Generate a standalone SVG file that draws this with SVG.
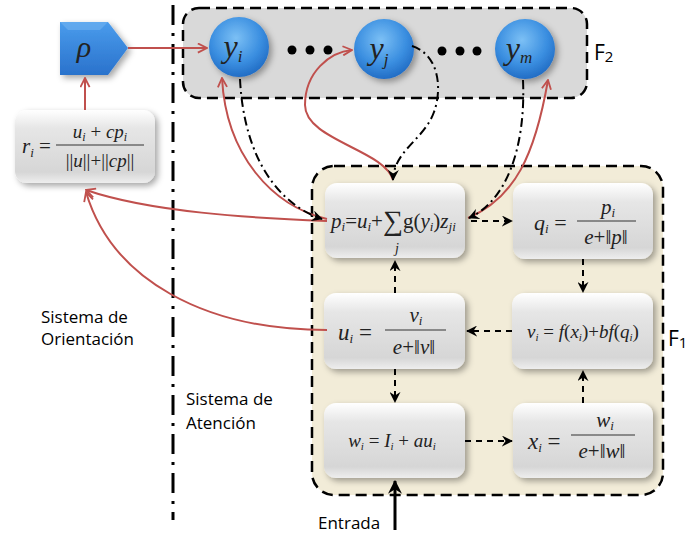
<svg xmlns="http://www.w3.org/2000/svg" width="698" height="535" viewBox="0 0 698 535">
<style>
.math{font-family:"Liberation Serif","DejaVu Serif",serif;font-style:italic;fill:#222}
.lbl{font-family:"Open Sans","Liberation Sans",sans-serif;fill:#000}
.box{fill:url(#gbox);filter:url(#sh)}
.red{fill:none;stroke:#c0504d;stroke-width:2;marker-end:url(#ar)}
.dd{fill:none;stroke:#000;stroke-width:2;stroke-dasharray:9 4 2 4;marker-end:url(#ab)}
.dsh{fill:none;stroke:#000;stroke-width:2;stroke-dasharray:6 5;marker-end:url(#ab)}
.frac{stroke:#333;stroke-width:1.2}
</style>
<defs>
<linearGradient id="gbox" x1="0" y1="0" x2="0" y2="1">
<stop offset="0" stop-color="#ffffff"/><stop offset="0.25" stop-color="#e6e6e6"/><stop offset="0.85" stop-color="#d6d6d6"/><stop offset="1" stop-color="#eeeeee"/>
</linearGradient>
<radialGradient id="gball" cx="0.45" cy="0.35" r="0.7">
<stop offset="0" stop-color="#7cc0f5"/><stop offset="0.6" stop-color="#3a8ee0"/><stop offset="1" stop-color="#1d66bf"/>
</radialGradient>
<linearGradient id="gpent" x1="0" y1="0" x2="0" y2="1">
<stop offset="0" stop-color="#4a9cec"/><stop offset="1" stop-color="#2a72cc"/>
</linearGradient>
<filter id="sh" x="-20%" y="-20%" width="150%" height="160%">
<feDropShadow dx="3" dy="3" stdDeviation="3" flood-color="#000" flood-opacity="0.35"/>
</filter>
<marker id="ab" viewBox="0 0 12 12" refX="11" refY="6" markerWidth="11" markerHeight="11" markerUnits="userSpaceOnUse" orient="auto">
<path d="M0,0 L12,6 L0,12 L4,6 z" fill="#000"/>
</marker>
<marker id="ar" viewBox="0 0 12 12" refX="11" refY="6" markerWidth="11" markerHeight="11" markerUnits="userSpaceOnUse" orient="auto">
<path d="M1,1 L11,6 L1,11" fill="none" stroke="#c0504d" stroke-width="2"/>
</marker>
<marker id="abs" viewBox="0 0 12 12" refX="11" refY="6" markerWidth="14" markerHeight="14" markerUnits="userSpaceOnUse" orient="auto">
<path d="M0,0 L12,6 L0,12 L4,6 z" fill="#000"/>
</marker>
</defs>
<rect width="698" height="535" fill="#fff"/>

<!-- divider -->
<line x1="173" y1="5" x2="173" y2="520" stroke="#000" stroke-width="3" stroke-dasharray="20 8 3 8"/>

<!-- panels -->
<g id="F2">
<rect x="183" y="8" width="404" height="90" rx="16" fill="#d9d9d9" stroke="#000" stroke-width="2.5" stroke-dasharray="11 6"/>
<text class="lbl" x="594" y="60" font-size="21">F<tspan font-size="15" dy="2">2</tspan></text>
</g>
<g id="F1">
<rect x="312" y="166" width="351" height="329" rx="22" fill="#f2ecd8" stroke="#000" stroke-width="2.5" stroke-dasharray="11 6"/>
<text class="lbl" x="668" y="346" font-size="21">F<tspan font-size="15" dy="2">1</tspan></text>
</g>

<!-- labels -->
<g id="labels">
<text class="lbl" x="41" y="323" font-size="17">Sistema de</text>
<text class="lbl" x="41" y="345" font-size="17">Orientación</text>
<text class="lbl" x="186" y="405" font-size="17">Sistema de</text>
<text class="lbl" x="186" y="429" font-size="17">Atención</text>
<text class="lbl" x="318" y="529" font-size="17">Entrada</text>
</g>

<!-- nodes -->
<g id="rho">
<path d="M60,22 L108,22 L128,48 L108,75 L60,75 z" fill="url(#gpent)" filter="url(#sh)"/>
<path d="M60,22 L108,22 L100,30 L68,30 z" fill="#7ab8f2" opacity="0.5"/>
<text class="math" x="84" y="57" font-size="30" text-anchor="middle">ρ</text>
</g>
<g id="ri">
<rect class="box" x="15" y="110" width="140" height="73" rx="12"/>
<text class="math" x="22" y="153" font-size="21">r<tspan font-size="13" dy="4">i</tspan><tspan dy="-4" font-style="normal"> =</tspan></text>
<line class="frac" x1="56" y1="145" x2="144" y2="145"/>
<text class="math" x="100" y="138" font-size="19" text-anchor="middle">u<tspan font-size="12" dy="3">i</tspan><tspan dy="-3" font-style="normal"> + </tspan>cp<tspan font-size="12" dy="3">i</tspan></text>
<text class="math" x="100" y="167" font-size="19" text-anchor="middle"><tspan font-style="normal">||</tspan>u<tspan font-style="normal">||+||</tspan>cp<tspan font-style="normal">||</tspan></text>
</g>
<g id="yi">
<circle cx="239" cy="47" r="30" fill="url(#gball)" filter="url(#sh)"/>
<text class="math" x="233" y="57" font-size="32" text-anchor="middle">y<tspan font-size="17" dy="5">i</tspan></text>
</g>
<g id="dots1">
<circle cx="292" cy="50" r="4.5" fill="#000"/><circle cx="310" cy="50" r="4.5" fill="#000"/><circle cx="328" cy="50" r="4.5" fill="#000"/>
</g>
<g id="yj">
<circle cx="384" cy="49" r="30" fill="url(#gball)" filter="url(#sh)"/>
<text class="math" x="379" y="59" font-size="32" text-anchor="middle">y<tspan font-size="17" dy="6">j</tspan></text>
</g>
<g id="dots2">
<circle cx="442" cy="51" r="4.5" fill="#000"/><circle cx="460" cy="51" r="4.5" fill="#000"/><circle cx="477" cy="51" r="4.5" fill="#000"/>
</g>
<g id="ym">
<circle cx="525" cy="49" r="30" fill="url(#gball)" filter="url(#sh)"/>
<text class="math" x="519" y="59" font-size="32" text-anchor="middle">y<tspan font-size="17" dy="4">m</tspan></text>
</g>

<g id="p">
<rect class="box" x="325" y="183" width="140" height="75" rx="12"/>
<text class="math" x="331" y="228" font-size="21" fill="#333">p<tspan font-size="13" dy="3">i</tspan><tspan dy="-3" font-style="normal">=</tspan>u<tspan font-size="13" dy="3">i</tspan><tspan dy="-3" font-style="normal">+</tspan><tspan font-style="normal" font-size="28" dy="2">∑</tspan><tspan dy="-2" font-style="normal">g(</tspan>y<tspan font-size="13" dy="3">i</tspan><tspan dy="-3" font-style="normal">)</tspan>z<tspan font-size="13" dy="3">ji</tspan></text>
<text class="math" x="397" y="253" font-size="14" text-anchor="middle">j</text>
</g>
<g id="q">
<rect class="box" x="513" y="183" width="140" height="76" rx="12"/>
<text class="math" x="534" y="230" font-size="22">q<tspan font-size="13" dy="3">i</tspan><tspan dy="-3" font-style="normal"> =</tspan></text>
<line class="frac" x1="577" y1="221" x2="636" y2="221"/>
<text class="math" x="608" y="214" font-size="21" text-anchor="middle">p<tspan font-size="13" dy="3">i</tspan></text>
<text class="math" x="606" y="244" font-size="21" text-anchor="middle">e<tspan font-style="normal">+‖</tspan>p<tspan font-style="normal">‖</tspan></text>
</g>
<g id="u">
<rect class="box" x="324" y="293" width="141" height="76" rx="12"/>
<text class="math" x="338" y="340" font-size="23">u<tspan font-size="13" dy="3">i</tspan><tspan dy="-3" font-style="normal"> =</tspan></text>
<line class="frac" x1="385" y1="330" x2="446" y2="330"/>
<text class="math" x="416" y="322" font-size="21" text-anchor="middle">v<tspan font-size="13" dy="3">i</tspan></text>
<text class="math" x="414" y="354" font-size="21" text-anchor="middle">e<tspan font-style="normal">+‖</tspan>v<tspan font-style="normal">‖</tspan></text>
</g>
<g id="v">
<rect class="box" x="512" y="293" width="141" height="76" rx="12"/>
<text class="math" x="583" y="338" font-size="19" text-anchor="middle" fill="#333">v<tspan font-size="11" dy="3">i</tspan><tspan dy="-3" font-style="normal"> = </tspan>f<tspan font-style="normal">(</tspan>x<tspan font-size="11" dy="3">i</tspan><tspan dy="-3" font-style="normal">)+</tspan>bf<tspan font-style="normal">(</tspan>q<tspan font-size="11" dy="3">i</tspan><tspan dy="-3" font-style="normal">)</tspan></text>
</g>
<g id="w">
<rect class="box" x="324" y="403" width="141" height="75" rx="12"/>
<text class="math" x="392" y="447" font-size="19" text-anchor="middle" fill="#555">w<tspan font-size="11" dy="3">i</tspan><tspan dy="-3" font-style="normal"> = </tspan>I<tspan font-size="11" dy="3">i</tspan><tspan dy="-3" font-style="normal"> + </tspan>au<tspan font-size="11" dy="3">i</tspan></text>
</g>
<g id="x">
<rect class="box" x="513" y="403" width="140" height="75" rx="12"/>
<text class="math" x="528" y="449" font-size="23">x<tspan font-size="13" dy="3">i</tspan><tspan dy="-3" font-style="normal"> =</tspan></text>
<line class="frac" x1="571" y1="435" x2="635" y2="435"/>
<text class="math" x="605" y="427" font-size="21" text-anchor="middle">w<tspan font-size="13" dy="3">i</tspan></text>
<text class="math" x="602" y="458" font-size="21" text-anchor="middle">e<tspan font-style="normal">+‖</tspan>w<tspan font-style="normal">‖</tspan></text>
</g>

<!-- connectors -->
<g id="connectors">
<path class="red" d="M128,48 L207,48"/>
<path class="red" d="M85,110 L85,78"/>
<path class="red" d="M327,219 C272,206 226,155 222,78"/>
<path class="red" d="M327,221 C250,218 150,212 86,190"/>
<path class="red" d="M327,330 C205,330 112,280 86,192"/>
<path class="red" d="M393,180 C385,150 305,140 305,105 C305,72 330,52 352,50"/>
<path class="red" d="M468,218 C515,198 535,155 548,80"/>
<path class="dd" d="M240,79 C244,160 280,205 322,219"/>
<path class="dd" d="M412,46 C440,55 442,90 434,112 C424,140 394,150 393,180"/>
<path class="dd" d="M523,80 C526,150 505,202 469,218"/>
<path class="dsh" d="M471,221 L512,221"/>
<path class="dsh" d="M395,293 L395,261"/>
<path class="dsh" d="M583,259 L583,292"/>
<path class="dsh" d="M512,331 L467,331"/>
<path class="dsh" d="M395,369 L395,402"/>
<path class="dsh" d="M465,441 L512,441"/>
<path class="dsh" d="M583,403 L583,371"/>
<path d="M395,530 L395,481" fill="none" stroke="#000" stroke-width="3" marker-end="url(#abs)"/>
</g>
</svg>
